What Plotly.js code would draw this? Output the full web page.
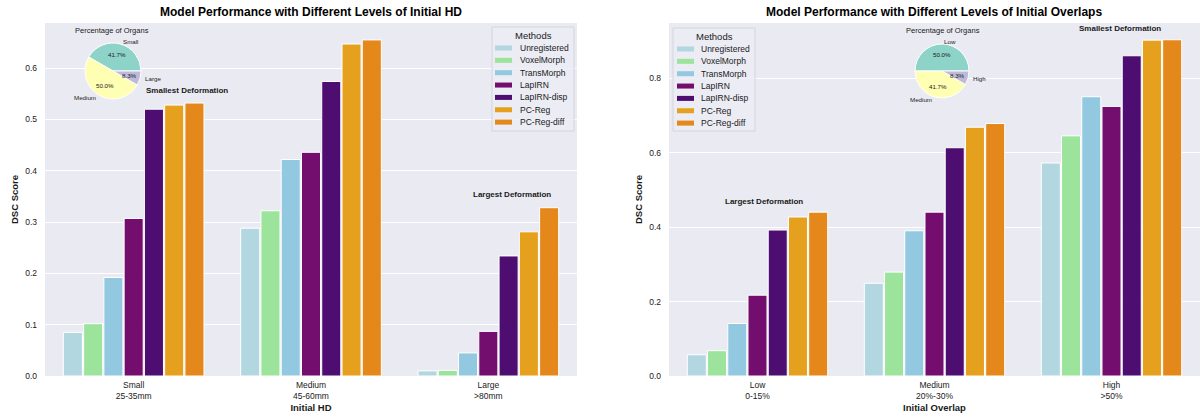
<!DOCTYPE html>
<html><head><meta charset="utf-8">
<script src="https://cdn.plot.ly/plotly-3.0.1.min.js"></script>
<style>html,body{margin:0;padding:0;background:#fff}#chart{width:1203px;height:418px}</style>
</head><body><div id="chart"></div>
<script>
// ---------- data ----------
const methods = ['Unregistered','VoxelMorph','TransMorph','LapIRN','LapIRN-disp','PC-Reg','PC-Reg-diff'];
const methodColors = ['#b3d7e1','#9ce49b','#93c9e0','#730e6f','#4d0d71','#e5a01d','#e4881c'];

const hdGroups = ['Small','Medium','Large'];
const hdRanges = ['25-35mm','45-60mm','>80mm'];
const hdUnregistered = [0.085, 0.288, 0.010];
const hdVoxelMorph   = [0.102, 0.322, 0.011];
const hdTransMorph   = [0.192, 0.422, 0.045];
const hdLapIRN       = [0.307, 0.436, 0.087];
const hdLapIRNdisp   = [0.520, 0.574, 0.234];
const hdPCReg        = [0.528, 0.647, 0.281];
const hdPCRegDiff    = [0.532, 0.655, 0.328];

const ovGroups = ['Low','Medium','High'];
const ovRanges = ['0-15%','20%-30%','>50%'];
const ovUnregistered = [0.057, 0.249, 0.572];
const ovVoxelMorph   = [0.068, 0.279, 0.645];
const ovTransMorph   = [0.141, 0.390, 0.750];
const ovLapIRN       = [0.217, 0.440, 0.724];
const ovLapIRNdisp   = [0.392, 0.613, 0.860];
const ovPCReg        = [0.427, 0.668, 0.902];
const ovPCRegDiff    = [0.440, 0.678, 0.903];

const pieColors = ['#8dd3c7','#ffffb3','#bebada'];
const hdPieLabels = ['Small','Medium','Large'];
const hdPieValues = [41.7, 50.0, 8.3];
const ovPieLabels = ['Low','Medium','High'];
const ovPieValues = [50.0, 41.7, 8.3];

// ---------- helpers ----------
const W = 1203, H = 418;
const px = x => x / W;
const py = y => 1 - y / H;
const FONT = 'Liberation Sans, Arial, sans-serif';
const TXT = '#1a1a1a';

const hdSeries = [hdUnregistered, hdVoxelMorph, hdTransMorph, hdLapIRN, hdLapIRNdisp, hdPCReg, hdPCRegDiff];
const ovSeries = [ovUnregistered, ovVoxelMorph, ovTransMorph, ovLapIRN, ovLapIRNdisp, ovPCReg, ovPCRegDiff];
const hdTicks = hdGroups.map((g,i) => g + '<br>' + hdRanges[i]);
const ovTicks = ovGroups.map((g,i) => g + '<br>' + ovRanges[i]);

const traces = [];
methods.forEach((m,i) => {
  traces.push({type:'bar', name:m, x:hdTicks, y:hdSeries[i], xaxis:'x', yaxis:'y',
    marker:{color:methodColors[i], line:{color:'#ffffff', width:1}}, showlegend:false, hoverinfo:'y+name'});
});
methods.forEach((m,i) => {
  traces.push({type:'bar', name:m, x:ovTicks, y:ovSeries[i], xaxis:'x2', yaxis:'y2',
    marker:{color:methodColors[i], line:{color:'#ffffff', width:1}}, showlegend:false, hoverinfo:'y+name'});
});

// pies (insets) — first slice starts at 3 o'clock and runs counterclockwise
const pies = [
  {labels:hdPieLabels, values:hdPieValues, cx:113, cy:71, r:28, title:'Percentage of Organs', tx:112, ty:30},
  {labels:ovPieLabels, values:ovPieValues, cx:942, cy:71, r:27, title:'Percentage of Organs', tx:943, ty:30}
];
const annotations = [];
const shapes = [];
pies.forEach(p => {
  const total = p.values.reduce((a,b)=>a+b,0);
  const rot = 90 - 360 * p.values[0] / total;
  traces.push({type:'pie', labels:p.labels, values:p.values, sort:false, direction:'counterclockwise',
    rotation:rot, textinfo:'none', hoverinfo:'label+percent', showlegend:false,
    marker:{colors:pieColors, line:{color:'#ffffff', width:1}},
    domain:{x:[px(p.cx-p.r), px(p.cx+p.r)], y:[py(p.cy+p.r), py(p.cy-p.r)]}});
  annotations.push({xref:'paper', yref:'paper', x:px(p.tx), y:py(p.ty), text:p.title, showarrow:false,
    xanchor:'center', yanchor:'middle', font:{family:FONT, size:7.5, color:TXT}});
  let cum = 0;
  p.values.forEach((v,k) => {
    const mid = (cum + v/2) / total * 2 * Math.PI;
    cum += v;
    const c = Math.cos(mid), s = Math.sin(mid);
    annotations.push({xref:'paper', yref:'paper', x:px(p.cx + p.r*0.6*c), y:py(p.cy - p.r*0.6*s),
      text:v.toFixed(1)+'%', showarrow:false, xanchor:'center', yanchor:'middle',
      font:{family:FONT, size:6.2, color:TXT}});
    annotations.push({xref:'paper', yref:'paper', x:px(p.cx + p.r*1.1*c), y:py(p.cy - p.r*1.1*s),
      text:p.labels[k], showarrow:false, xanchor: c > 0 ? 'left' : 'right', yanchor:'middle',
      font:{family:FONT, size:6.2, color:TXT}});
  });
});

// legends (compact, drawn in paper space)
function addLegend(x0, y0, x1, y1, swX0, swX1, txtX) {
  shapes.push({type:'rect', xref:'paper', yref:'paper', x0:px(x0), x1:px(x1), y0:py(y1), y1:py(y0),
    fillcolor:'rgba(236,236,244,0.85)', line:{color:'#d4d4dc', width:1}, layer:'above'});
  annotations.push({xref:'paper', yref:'paper', x:px((x0+x1)/2), y:py(y0+8), text:'Methods', showarrow:false,
    xanchor:'center', yanchor:'middle', font:{family:FONT, size:9.5, color:TXT}});
  methods.forEach((m,i) => {
    const yy = y0 + 21 + i*12.35;
    shapes.push({type:'rect', xref:'paper', yref:'paper', x0:px(swX0), x1:px(swX1), y0:py(yy+2.5), y1:py(yy-2.5),
      fillcolor:methodColors[i], line:{width:0}, layer:'above'});
    annotations.push({xref:'paper', yref:'paper', x:px(txtX), y:py(yy), text:m, showarrow:false,
      xanchor:'left', yanchor:'middle', font:{family:FONT, size:8.5, color:TXT}});
  });
}
addLegend(492, 27, 574, 131, 495, 512, 518);
addLegend(673, 28, 755, 131, 677, 694, 699);

// deformation notes
const notes = [
  {x:187, y:90, t:'Smallest Deformation'},
  {x:512, y:195, t:'Largest Deformation'},
  {x:764, y:201, t:'Largest Deformation'},
  {x:1120, y:29, t:'Smallest Deformation'}
];
notes.forEach(n => annotations.push({xref:'paper', yref:'paper', x:px(n.x), y:py(n.y), text:'<b>'+n.t+'</b>',
  showarrow:false, xanchor:'center', yanchor:'middle', font:{family:FONT, size:8, color:TXT}}));

// second title
annotations.push({xref:'paper', yref:'paper', x:px(934), y:py(12),
  text:'<b>Model Performance with Different Levels of Initial Overlaps</b>', showarrow:false,
  xanchor:'center', yanchor:'middle', font:{family:FONT, size:12, color:'#000'}});

const axisFont = {family:FONT, size:8.5, color:TXT};
const xBase = {type:'category', range:[-0.5, 2.5], showgrid:false, zeroline:false, showline:false,
  ticks:'', tickfont:axisFont, ticklabelstandoff:2};
const yBase = {showgrid:true, gridcolor:'#ffffff', gridwidth:1, zeroline:false, showline:false,
  ticks:'', tickfont:axisFont, tickformat:'.1f', ticklabelstandoff:7};

const layout = {
  width:W, height:H, margin:{l:0, r:0, t:0, b:0},
  paper_bgcolor:'#ffffff', plot_bgcolor:'#eaeaf2',
  font:{family:FONT, color:TXT},
  title:{text:'<b>Model Performance with Different Levels of Initial HD</b>', x:px(311), y:py(12),
    xref:'paper', yref:'paper', xanchor:'center', yanchor:'middle', font:{family:FONT, size:12, color:'#000'}},
  barmode:'group', bargap:0.2, bargroupgap:0.06,
  xaxis: Object.assign({}, xBase, {domain:[px(45), px(577)], anchor:'y',
    title:{text:'<b>Initial HD</b>', font:{family:FONT, size:9.5, color:TXT}, standoff:4}}),
  yaxis: Object.assign({}, yBase, {domain:[py(376), py(23)], anchor:'x', range:[0, 0.688], dtick:0.1,
    title:{text:'<b>DSC Score</b>', font:{family:FONT, size:9.5, color:TXT}, standoff:4}}),
  xaxis2: Object.assign({}, xBase, {domain:[px(669), px(1200)], anchor:'y2',
    title:{text:'<b>Initial Overlap</b>', font:{family:FONT, size:9.5, color:TXT}, standoff:4}}),
  yaxis2: Object.assign({}, yBase, {domain:[py(376), py(23)], anchor:'x2', range:[0, 0.948], dtick:0.2,
    title:{text:'<b>DSC Score</b>', font:{family:FONT, size:9.5, color:TXT}, standoff:4}}),
  annotations: annotations,
  shapes: shapes,
  showlegend:false
};

Plotly.newPlot('chart', traces, layout, {displayModeBar:false, staticPlot:true});
</script>
</body></html>
